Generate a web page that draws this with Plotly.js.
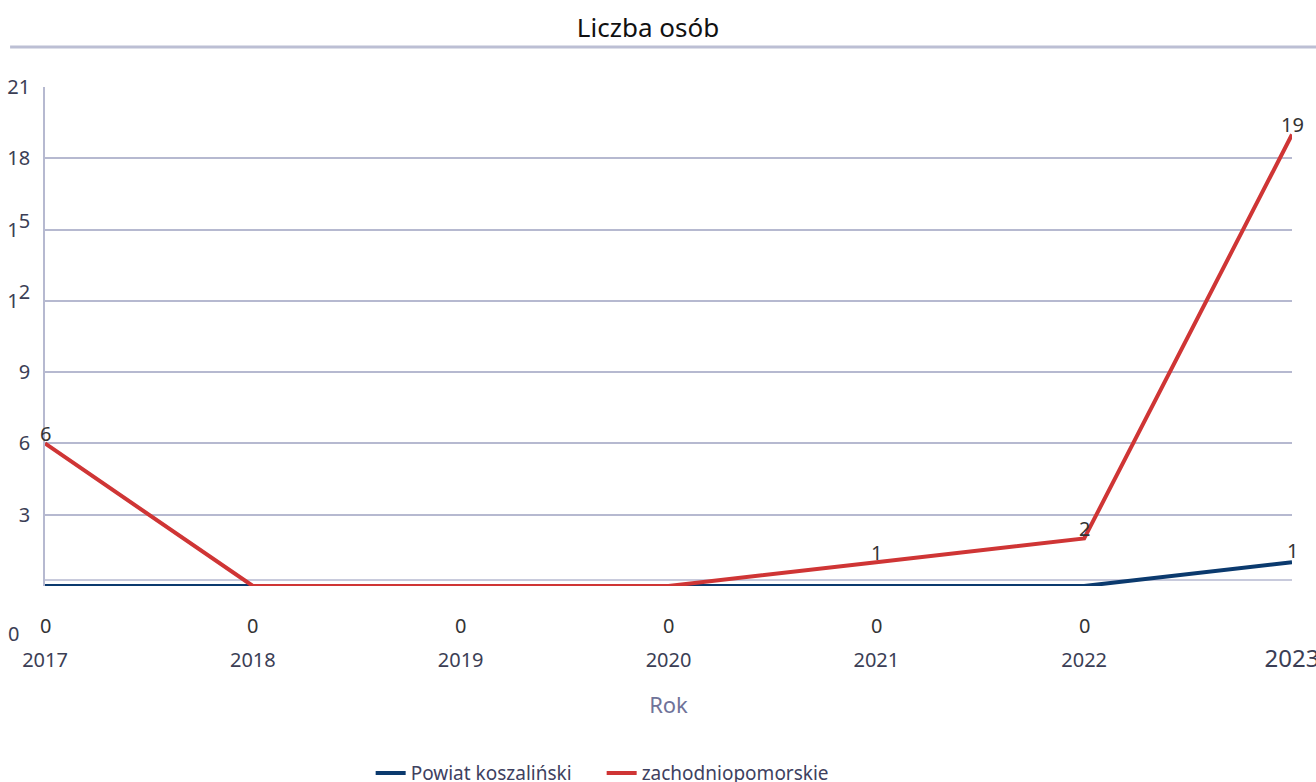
<!DOCTYPE html>
<html>
<head>
<meta charset="utf-8">
<script src="https://cdn.plot.ly/plotly-3.0.1.min.js"></script>
<style>html,body{margin:0;padding:0;background:#fff;}#chart{width:1316px;height:782px;}</style>
</head>
<body>
<div id="chart"></div>
<script>
const years = ['2017', '2018', '2019', '2020', '2021', '2022', '2023'];
const yearLabels = ['2017', '2018', '2019', '2020', '2021', '2022', '<span style="font-size:24px">2023</span>'];
const powiatName = 'Powiat koszaliński';
const powiatValues = [0, 0, 0, 0, 0, 0, 1];
const wojName = 'zachodniopomorskie';
const wojValues = [6, 0, 0, 0, 1, 2, 19];
const yTickVals = [0, 3, 6, 9, 12, 15, 18, 21];
const yTickText = ['0', '3', '6', '9', '1<sup><span style="font-size:20px">2</span></sup>', '1<sup><span style="font-size:20px">5</span></sup>', '18', '21'];

const BLUE = '#0b3a6e';
const RED = '#cf3535';
const GRID = '#b6b9d0';
const TICK = '#3b3e55';
const FONT = '"Noto Sans", "Open Sans", sans-serif';

const traces = [
  {x: years, y: powiatValues, name: powiatName, type: 'scatter', mode: 'lines',
   line: {color: BLUE, width: 4}, hoverinfo: 'skip'},
  {x: years, y: wojValues, name: wojName, type: 'scatter', mode: 'lines',
   line: {color: RED, width: 4}, hoverinfo: 'skip'}
];

const annotations = [];
wojValues.forEach((v, i) => {
  if (v > 0) annotations.push({x: i, y: v, xref: 'x', yref: 'y', text: String(v),
    showarrow: false, xanchor: 'center', yanchor: 'middle', yshift: 10,
    font: {family: FONT, size: 20, color: '#333'}});
});
powiatValues.forEach((v, i) => {
  annotations.push({x: i, y: v, xref: 'x', yref: 'y', text: String(v),
    showarrow: false, xanchor: 'center', yanchor: 'middle', yshift: v > 0 ? 12 : -39,
    font: {family: FONT, size: 20, color: '#333'}});
});
// zero tick label, drawn lower as in the original
annotations.push({x: 0, xref: 'paper', xshift: -32, xanchor: 'center', y: yTickVals[0], yref: 'y',
  yanchor: 'middle', yshift: -47,
  text: yTickText[0], showarrow: false, font: {family: FONT, size: 20, color: TICK}});

const layout = {
  width: 1316, height: 782,
  margin: {l: 45, r: 24, t: 87, b: 196, autoexpand: false},
  paper_bgcolor: '#fff', plot_bgcolor: '#fff',
  font: {family: FONT, color: TICK, size: 20},
  title: {text: 'Liczba osób', x: 648 / 1316, xanchor: 'center', y: 1 - 28 / 782, yanchor: 'middle',
          yref: 'container', font: {family: FONT, size: 26, color: '#111'}},
  showlegend: true,
  legend: {orientation: 'h', x: 0.4464, xanchor: 'center', y: -0.375, yanchor: 'middle',
           font: {family: FONT, size: 19, color: '#3e4160'}, itemwidth: 30,
           entrywidth: 186, entrywidthmode: 'pixels'},
  xaxis: {type: 'category', range: [0, 6], tickvals: years, ticktext: yearLabels,
          showgrid: false, zeroline: false, showline: false, ticks: '', automargin: false,
          ticklabelstandoff: 60, tickfont: {family: FONT, size: 20, color: TICK},
          title: {text: 'Rok', standoff: 24, font: {family: FONT, size: 22, color: '#6f7399'}}},
  yaxis: {range: [0, 21], tickvals: yTickVals, automargin: false,
          ticktext: yTickText.map((t, i) => i === 0 ? '' : t),
          showgrid: true, gridcolor: GRID, gridwidth: 1.5, zeroline: false,
          showline: true, linecolor: GRID, linewidth: 1.5, ticks: '',
          ticklabelstandoff: 9, tickfont: {family: FONT, size: 20, color: TICK}},
  shapes: [
    {type: 'line', xref: 'paper', yref: 'paper', x0: -0.028, x1: 1.02, y0: 1.08, y1: 1.08,
     line: {color: '#bcbfd4', width: 3}},
    {type: 'line', xref: 'paper', yref: 'paper', x0: 0, x1: 1, y0: 0.012, y1: 0.012,
     line: {color: GRID, width: 1.5}, layer: 'below'}
  ],
  annotations: annotations
};

Plotly.newPlot('chart', traces, layout, {displayModeBar: false, responsive: false});
</script>
</body>
</html>
